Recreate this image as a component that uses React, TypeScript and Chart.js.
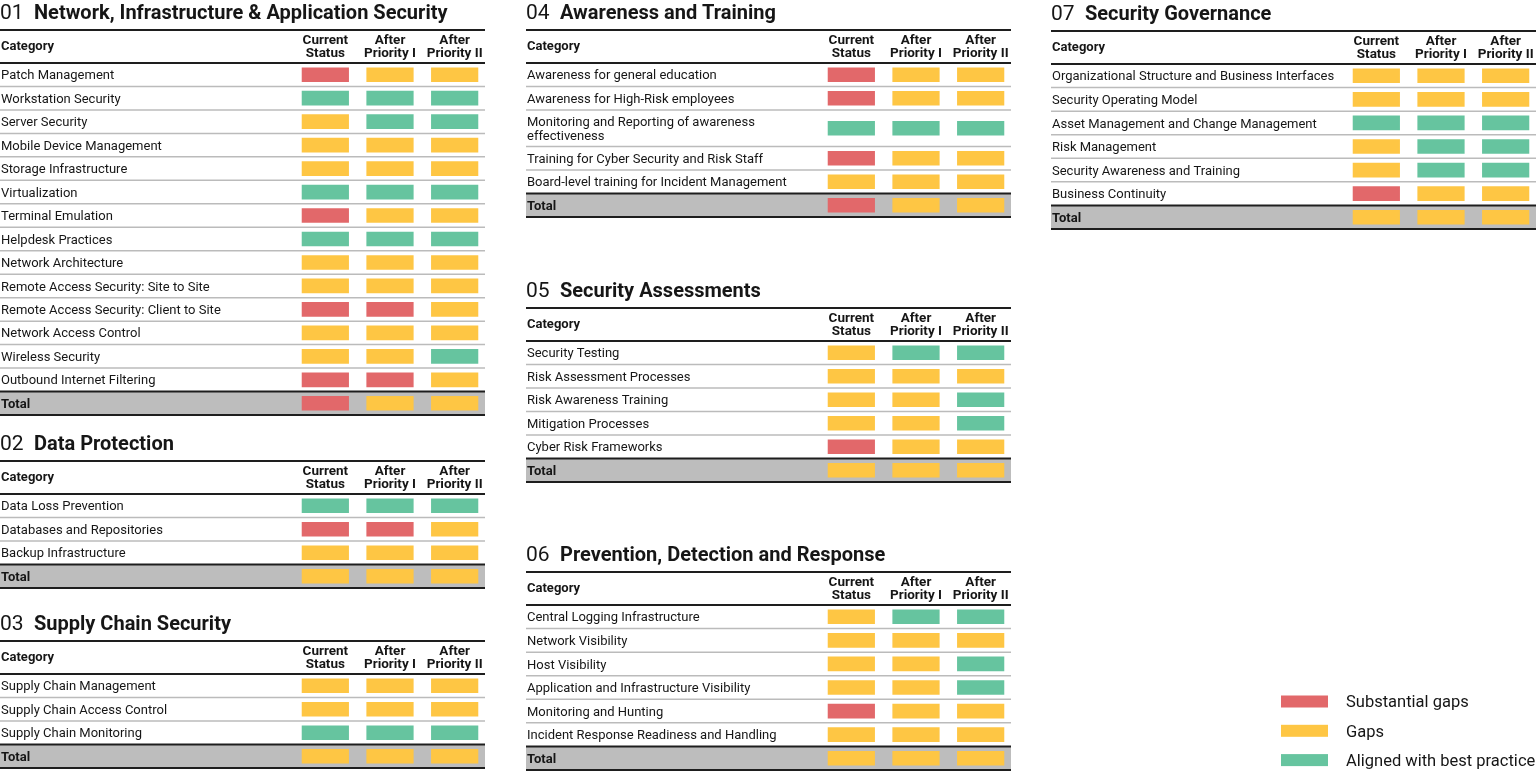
import React, { useEffect, useRef } from "react";
import { Chart, registerables } from "chart.js";

Chart.register(...registerables);

type Status = "S" | "G" | "A"; // S = substantial gaps, G = gaps, A = aligned
type RowLabel = string | string[];

const statusColors: Record<Status, string> = { S: "#E2686A", G: "#FEC644", A: "#66C49F" };
const legendStatuses: Status[] = ["S", "G", "A"];
const legendLabels = ["Substantial gaps", "Gaps", "Aligned with best practice"];
const columnHeaders = [["Current", "Status"], ["After", "Priority I"], ["After", "Priority II"]];

// 01 Network, Infrastructure & Application Security
const networkRows: RowLabel[] = [
  "Patch Management", "Workstation Security", "Server Security", "Mobile Device Management",
  "Storage Infrastructure", "Virtualization", "Terminal Emulation", "Helpdesk Practices",
  "Network Architecture", "Remote Access Security: Site to Site", "Remote Access Security: Client to Site",
  "Network Access Control", "Wireless Security", "Outbound Internet Filtering", "Total",
];
const networkCurrent: Status[] = ["S", "A", "G", "G", "G", "A", "S", "A", "G", "G", "S", "G", "G", "S", "S"];
const networkAfter1: Status[] = ["G", "A", "A", "G", "G", "A", "G", "A", "G", "G", "S", "G", "G", "S", "G"];
const networkAfter2: Status[] = ["G", "A", "A", "G", "G", "A", "G", "A", "G", "G", "G", "G", "A", "G", "G"];

// 02 Data Protection
const dataRows: RowLabel[] = ["Data Loss Prevention", "Databases and Repositories", "Backup Infrastructure", "Total"];
const dataCurrent: Status[] = ["A", "S", "G", "G"];
const dataAfter1: Status[] = ["A", "S", "G", "G"];
const dataAfter2: Status[] = ["A", "G", "G", "G"];

// 03 Supply Chain Security
const supplyRows: RowLabel[] = ["Supply Chain Management", "Supply Chain Access Control", "Supply Chain Monitoring", "Total"];
const supplyCurrent: Status[] = ["G", "G", "A", "G"];
const supplyAfter1: Status[] = ["G", "G", "A", "G"];
const supplyAfter2: Status[] = ["G", "G", "A", "G"];

// 04 Awareness and Training
const awarenessRows: RowLabel[] = [
  "Awareness for general education", "Awareness for High-Risk employees",
  ["Monitoring and Reporting of awareness", "effectiveness"],
  "Training for Cyber Security and Risk Staff", "Board-level training for Incident Management", "Total",
];
const awarenessCurrent: Status[] = ["S", "S", "A", "S", "G", "S"];
const awarenessAfter1: Status[] = ["G", "G", "A", "G", "G", "G"];
const awarenessAfter2: Status[] = ["G", "G", "A", "G", "G", "G"];

// 05 Security Assessments
const assessRows: RowLabel[] = [
  "Security Testing", "Risk Assessment Processes", "Risk Awareness Training",
  "Mitigation Processes", "Cyber Risk Frameworks", "Total",
];
const assessCurrent: Status[] = ["G", "G", "G", "G", "S", "G"];
const assessAfter1: Status[] = ["A", "G", "G", "G", "G", "G"];
const assessAfter2: Status[] = ["A", "G", "A", "A", "G", "G"];

// 06 Prevention, Detection and Response
const preventRows: RowLabel[] = [
  "Central Logging Infrastructure", "Network Visibility", "Host Visibility",
  "Application and Infrastructure Visibility", "Monitoring and Hunting",
  "Incident Response Readiness and Handling", "Total",
];
const preventCurrent: Status[] = ["G", "G", "G", "G", "S", "G", "G"];
const preventAfter1: Status[] = ["A", "G", "G", "G", "G", "G", "G"];
const preventAfter2: Status[] = ["A", "G", "A", "A", "G", "G", "G"];

// 07 Security Governance
const govRows: RowLabel[] = [
  "Organizational Structure and Business Interfaces", "Security Operating Model",
  "Asset Management and Change Management", "Risk Management",
  "Security Awareness and Training", "Business Continuity", "Total",
];
const govCurrent: Status[] = ["G", "G", "A", "G", "G", "S", "G"];
const govAfter1: Status[] = ["G", "G", "A", "A", "A", "G", "G"];
const govAfter2: Status[] = ["G", "G", "A", "A", "A", "G", "G"];

type Section = {
  num: string;
  title: string;
  rows: RowLabel[];
  cols: Status[][];
  left: number;
  top: number; // y of the table's top rule
};

const sections: Section[] = [
  { num: "01", title: "Network, Infrastructure & Application Security", rows: networkRows, cols: [networkCurrent, networkAfter1, networkAfter2], left: 0, top: 30 },
  { num: "02", title: "Data Protection", rows: dataRows, cols: [dataCurrent, dataAfter1, dataAfter2], left: 0, top: 461 },
  { num: "03", title: "Supply Chain Security", rows: supplyRows, cols: [supplyCurrent, supplyAfter1, supplyAfter2], left: 0, top: 641 },
  { num: "04", title: "Awareness and Training", rows: awarenessRows, cols: [awarenessCurrent, awarenessAfter1, awarenessAfter2], left: 526, top: 30 },
  { num: "05", title: "Security Assessments", rows: assessRows, cols: [assessCurrent, assessAfter1, assessAfter2], left: 526, top: 308 },
  { num: "06", title: "Prevention, Detection and Response", rows: preventRows, cols: [preventCurrent, preventAfter1, preventAfter2], left: 526, top: 571.5 },
  { num: "07", title: "Security Governance", rows: govRows, cols: [govCurrent, govAfter1, govAfter2], left: 1051, top: 31 },
];

const FONT = "Roboto, 'Noto Sans', sans-serif";
const ROW_H = 23.45;
const HEAD_H = 33;
const TITLE_H = 30;
const TABLE_W = 485;
const LABEL_W = 293;
const CANVAS_W = 487;
const TEXT = "#161616";

function SectionTable({ s }: { s: Section }) {
  const ref = useRef<HTMLCanvasElement>(null);
  const spans = s.rows.map((r) => (Array.isArray(r) ? 1.55 : 1));
  const totalSpan = spans.reduce((a, b) => a + b, 0);
  const height = Math.ceil(TITLE_H + HEAD_H + totalSpan * ROW_H + 3);

  useEffect(() => {
    const canvas = ref.current;
    if (!canvas) return;
    const starts: number[] = [];
    let acc = 0;
    spans.forEach((sp) => {
      starts.push(acc);
      acc += sp;
    });
    const centers = starts.map((st, i) => st + spans[i] / 2);
    const n = s.rows.length;

    const hline = (ctx: CanvasRenderingContext2D, py: number) => {
      ctx.beginPath();
      ctx.moveTo(0, py);
      ctx.lineTo(TABLE_W, py);
      ctx.stroke();
    };

    const decor = {
      id: "tableDecor",
      beforeDatasetsDraw(chart: any) {
        const { ctx, chartArea } = chart;
        const y = chart.scales.y;
        ctx.save();
        const tTop = y.getPixelForValue(starts[n - 1]);
        const tBot = y.getPixelForValue(totalSpan);
        ctx.fillStyle = "#BDBDBD";
        ctx.fillRect(0, tTop, TABLE_W, tBot - tTop);
        ctx.strokeStyle = "#BBBBBB";
        ctx.lineWidth = 1.5;
        for (let i = 1; i < n - 1; i++) hline(ctx, y.getPixelForValue(starts[i]));
        ctx.strokeStyle = "#1E1E1E";
        ctx.lineWidth = 2;
        [chartArea.top - HEAD_H, chartArea.top, tTop, tBot].forEach((py) => hline(ctx, py));
        ctx.restore();
      },
      afterDatasetsDraw(chart: any) {
        const { ctx, chartArea } = chart;
        const x = chart.scales.x;
        const y = chart.scales.y;
        const ruleTop = chartArea.top - HEAD_H;
        ctx.save();
        ctx.fillStyle = TEXT;
        ctx.textBaseline = "alphabetic";
        // title
        ctx.textAlign = "left";
        ctx.font = `400 21px ${FONT}`;
        ctx.fillText(s.num, 0, ruleTop - 11);
        ctx.font = `700 20px ${FONT}`;
        ctx.fillText(s.title, 34, ruleTop - 11);
        // header
        ctx.font = `700 13px ${FONT}`;
        ctx.fillText("Category", 1, ruleTop + 20);
        ctx.font = `700 13.5px ${FONT}`;
        ctx.textAlign = "center";
        columnHeaders.forEach((lines, c) => {
          const cx = x.getPixelForValue(c + 0.5);
          ctx.fillText(lines[0], cx, ruleTop + 13.5);
          ctx.fillText(lines[1], cx, ruleTop + 26.5);
        });
        // row labels
        ctx.textAlign = "left";
        s.rows.forEach((r, i) => {
          const cy = y.getPixelForValue(centers[i]);
          const isTotal = i === n - 1;
          ctx.font = `${isTotal ? 700 : 400} 13px ${FONT}`;
          if (Array.isArray(r)) {
            ctx.fillText(r[0], 1, cy - 7 + 4.6);
            ctx.fillText(r[1], 1, cy + 7 + 4.6);
          } else {
            ctx.fillText(r, 1, cy + 4.6);
          }
        });
        ctx.restore();
      },
    };

    const datasets = columnHeaders.map((h, c) => ({
      label: h.join(" "),
      data: s.cols[c].map((st, i) => ({ x: [c + 0.14, c + 0.86], y: centers[i] })),
      backgroundColor: s.cols[c].map((st) => statusColors[st]),
      borderWidth: 0,
      barThickness: 14,
      maxBarThickness: 14,
      grouped: false,
    }));

    const chart = new Chart(canvas, {
      type: "bar",
      data: { datasets } as any,
      options: {
        responsive: false,
        animation: false,
        indexAxis: "y",
        events: [],
        layout: { padding: { left: LABEL_W, right: 0, top: TITLE_H + HEAD_H, bottom: 3 } },
        scales: {
          x: { type: "linear", min: 0, max: 3, offset: false, display: false },
          y: { type: "linear", min: 0, max: totalSpan, reverse: true, offset: false, display: false },
        },
        plugins: { legend: { display: false }, tooltip: { enabled: false } },
      } as any,
      plugins: [decor],
    });
    return () => chart.destroy();
  }, []);

  return (
    <canvas
      ref={ref}
      width={CANVAS_W}
      height={height}
      style={{ position: "absolute", left: s.left, top: s.top - TITLE_H, width: CANVAS_W, height }}
    />
  );
}

function StatusLegend() {
  const ref = useRef<HTMLCanvasElement>(null);
  useEffect(() => {
    const canvas = ref.current;
    if (!canvas) return;
    const drawLegend = {
      id: "statusLegend",
      afterDraw(chart: any) {
        const { ctx } = chart;
        ctx.save();
        chart.data.datasets.forEach((ds: any, i: number) => {
          const cy = 15.5 + i * 29.3;
          ctx.fillStyle = ds.backgroundColor;
          ctx.fillRect(11, cy - 6, 47, 12);
          ctx.fillStyle = TEXT;
          ctx.font = `400 16.5px ${FONT}`;
          ctx.textAlign = "left";
          ctx.textBaseline = "alphabetic";
          ctx.fillText(ds.label, 76, cy + 5.8);
        });
        ctx.restore();
      },
    };
    const chart = new Chart(canvas, {
      type: "bar",
      data: {
        labels: [],
        datasets: legendStatuses.map((st, i) => ({ label: legendLabels[i], data: [], backgroundColor: statusColors[st] })),
      },
      options: {
        responsive: false,
        animation: false,
        events: [],
        scales: { x: { display: false }, y: { display: false } },
        plugins: { legend: { display: false }, tooltip: { enabled: false } },
      } as any,
      plugins: [drawLegend],
    });
    return () => chart.destroy();
  }, []);
  return (
    <canvas ref={ref} width={266} height={86} style={{ position: "absolute", left: 1270, top: 686, width: 266, height: 86 }} />
  );
}

export default function App() {
  return (
    <div
      style={{
        position: "fixed",
        left: 0,
        top: 0,
        width: 1536,
        height: 772,
        background: "#ffffff",
        overflow: "hidden",
      }}
    >
      {sections.map((s) => (
        <SectionTable key={s.num} s={s} />
      ))}
      <StatusLegend />
    </div>
  );
}
